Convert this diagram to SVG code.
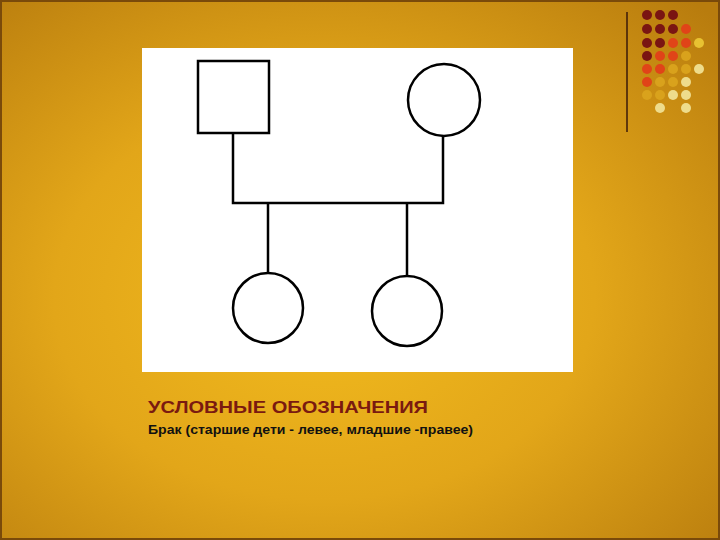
<svg xmlns="http://www.w3.org/2000/svg" width="720" height="540" viewBox="0 0 720 540">
<defs>
<radialGradient id="bg" cx="0.45" cy="0.55" r="0.75">
<stop offset="0" stop-color="#f2bb1e"/>
<stop offset="0.5" stop-color="#e2a619"/>
<stop offset="1" stop-color="#b87c0e"/>
</radialGradient>
</defs>
<style>
.ln{stroke:#000;stroke-width:2.5;fill:none}
.nd{stroke:#000;stroke-width:2.5;fill:#fff}
.dr{fill:#7a1512}.or{fill:#e04418}.am{fill:#d9a21c}.pl{fill:#eedc8c}.yl{fill:#e8c232}
.t1{font-family:"Liberation Sans",Arial,sans-serif;font-weight:bold;font-size:17px;fill:#7a1a10}
.t2{font-family:"Liberation Sans",Arial,sans-serif;font-weight:bold;font-size:12px;fill:#111}
</style>
<rect width="720" height="540" fill="url(#bg)"/>
<rect x="1" y="1" width="718" height="538" fill="none" stroke="#7a4a0a" stroke-width="2"/>
<g id="decor">
<line x1="627" y1="12" x2="627" y2="132" stroke="#3a1a08" stroke-width="1.5"/>
<circle class="dr" cx="647" cy="15" r="5"/><circle class="dr" cx="660" cy="15" r="5"/><circle class="dr" cx="673" cy="15" r="5"/>
<circle class="dr" cx="647" cy="29" r="5"/><circle class="dr" cx="660" cy="29" r="5"/><circle class="dr" cx="673" cy="29" r="5"/><circle class="or" cx="686" cy="29" r="5"/>
<circle class="dr" cx="647" cy="43" r="5"/><circle class="dr" cx="660" cy="43" r="5"/><circle class="or" cx="673" cy="43" r="5"/><circle class="or" cx="686" cy="43" r="5"/><circle class="yl" cx="699" cy="43" r="5"/>
<circle class="dr" cx="647" cy="56" r="5"/><circle class="or" cx="660" cy="56" r="5"/><circle class="or" cx="673" cy="56" r="5"/><circle class="am" cx="686" cy="56" r="5"/>
<circle class="or" cx="647" cy="69" r="5"/><circle class="or" cx="660" cy="69" r="5"/><circle class="am" cx="673" cy="69" r="5"/><circle class="am" cx="686" cy="69" r="5"/><circle class="pl" cx="699" cy="69" r="5"/>
<circle class="or" cx="647" cy="82" r="5"/><circle class="am" cx="660" cy="82" r="5"/><circle class="am" cx="673" cy="82" r="5"/><circle class="pl" cx="686" cy="82" r="5"/>
<circle class="am" cx="647" cy="95" r="5"/><circle class="am" cx="660" cy="95" r="5"/><circle class="pl" cx="673" cy="95" r="5"/><circle class="pl" cx="686" cy="95" r="5"/>
<circle class="pl" cx="660" cy="108" r="5"/><circle class="pl" cx="686" cy="108" r="5"/>
</g>
<rect x="142" y="48" width="431" height="324" fill="#fff"/>
<g id="connectors">
<polyline class="ln" points="233,133 233,203 443,203 443,136"/>
<line class="ln" x1="268" y1="203" x2="268" y2="273"/>
<line class="ln" x1="407" y1="203" x2="407" y2="276"/>
</g>
<g id="father"><rect class="nd" x="198" y="61" width="71" height="72"/></g>
<g id="mother"><circle class="nd" cx="444" cy="100" r="36"/></g>
<g id="child1"><circle class="nd" cx="268" cy="308" r="35"/></g>
<g id="child2"><circle class="nd" cx="407" cy="311" r="35"/></g>
<text class="t1" x="148" y="413" textLength="280" lengthAdjust="spacingAndGlyphs">УСЛОВНЫЕ ОБОЗНАЧЕНИЯ</text>
<text class="t2" x="148" y="434" textLength="325" lengthAdjust="spacingAndGlyphs">Брак (старшие дети - левее, младшие -правее)</text>
</svg>
